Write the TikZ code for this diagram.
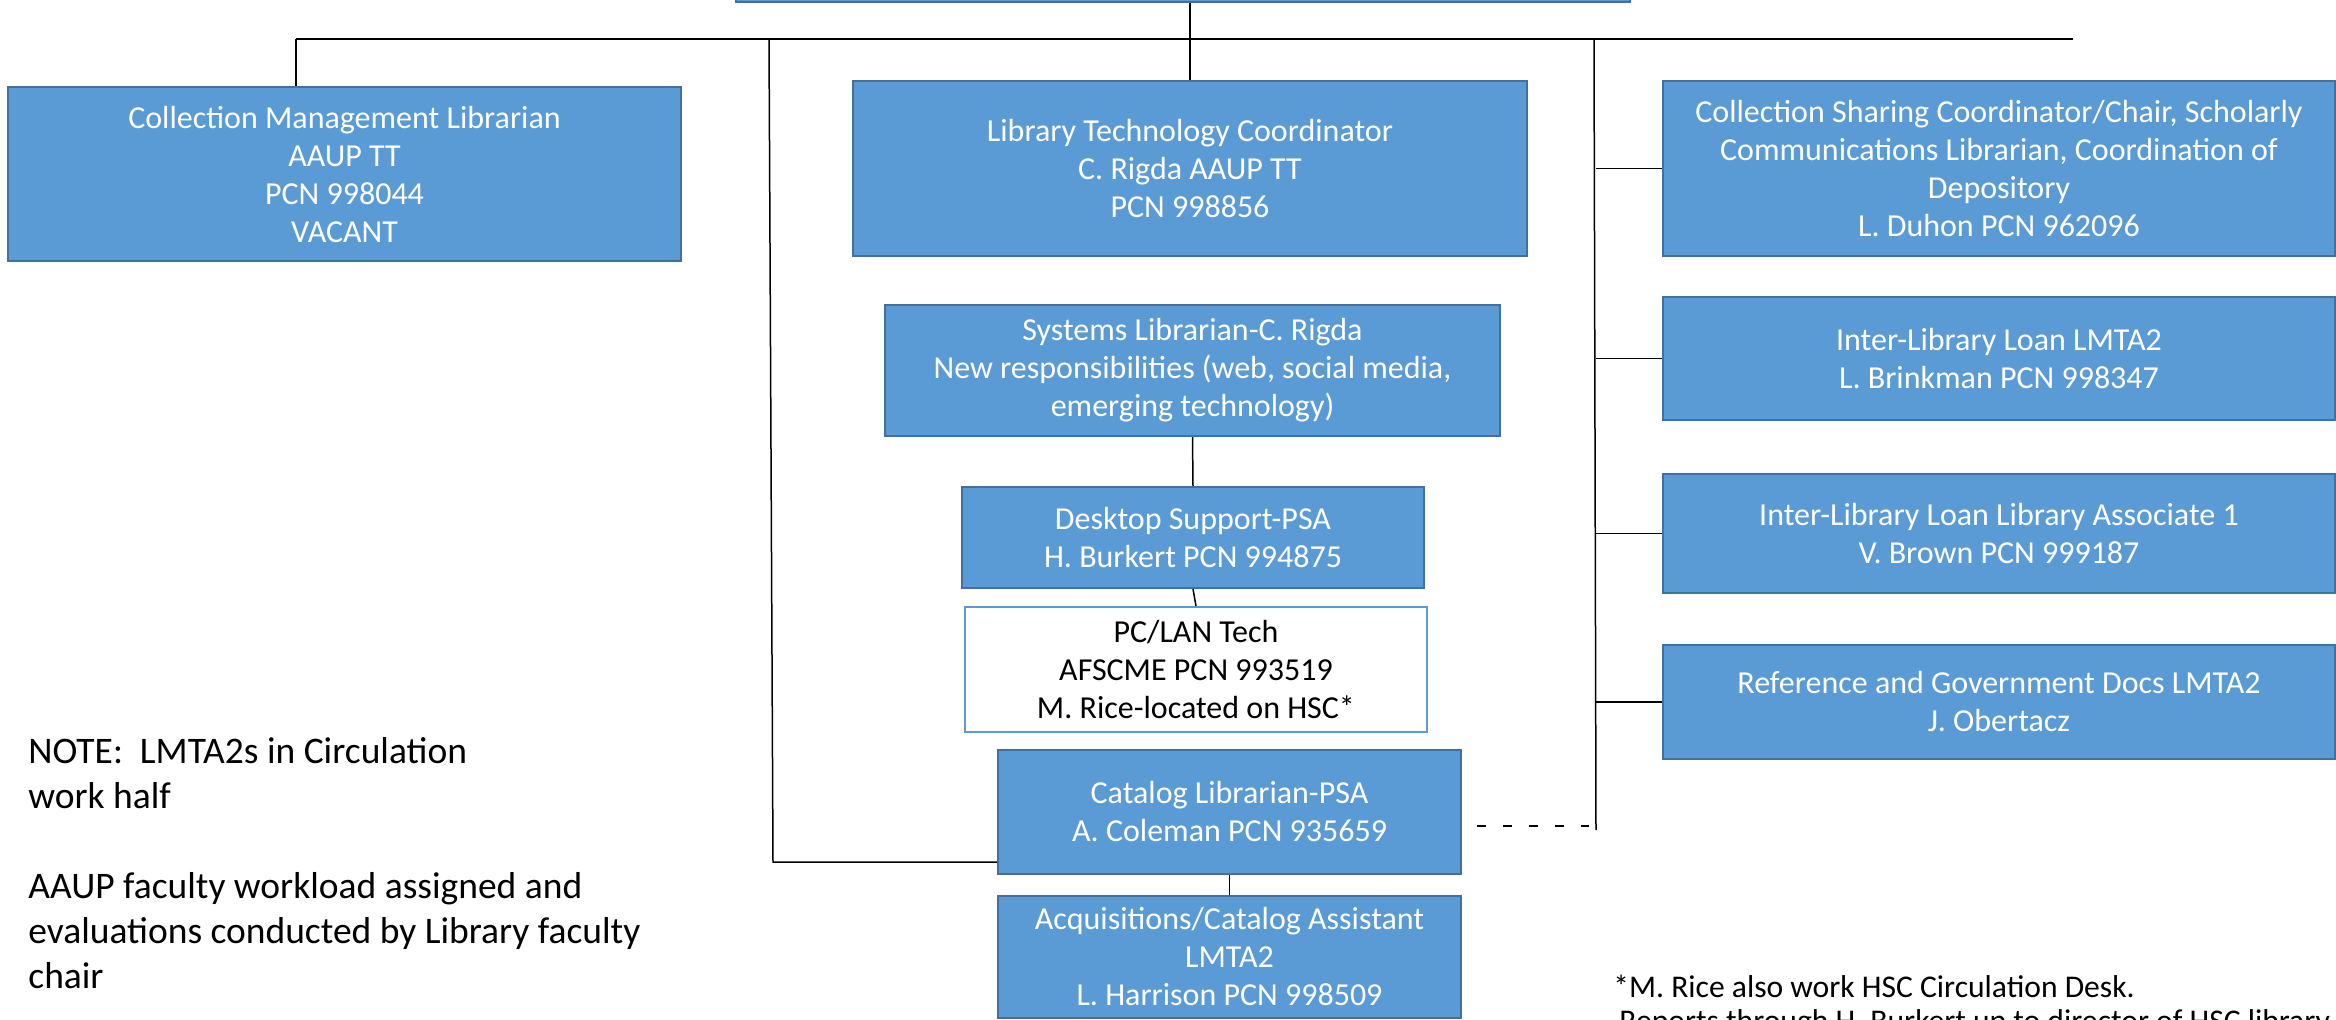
\documentclass[tikz,border=0pt]{standalone}
\usepackage{fontspec}
\setmainfont{Carlito}
\definecolor{boxblue}{HTML}{5B9BD5}
\definecolor{boxedge}{HTML}{41719C}
\tikzset{
  orgbox/.style={draw=boxedge, fill=boxblue, line width=1pt, text=white, align=center,
    inner sep=0pt, font=\fontsize{16}{19}\selectfont},
  whitebox/.style={draw=boxblue, fill=white, line width=1pt, text=black, align=center,
    inner sep=0pt, font=\fontsize{16}{19}\selectfont},
  conn/.style={draw=black, line width=0.75pt},
  notetext/.style={anchor=base west, inner sep=0pt, font=\fontsize{18.75}{22.5}\selectfont},
  foottext/.style={anchor=base west, inner sep=0pt, font=\fontsize{15.8}{18}\selectfont},
}
\begin{document}
\begin{tikzpicture}[x=0.5pt,y=-0.5pt]
\useasboundingbox (0,0) rectangle (2336,1019);
\clip (0,0) rectangle (2336,1019);

% boxes
\node[orgbox, minimum width=447pt, minimum height=16pt] (top) at (1183,-14) {};
\node[orgbox, minimum width=336.5pt, minimum height=87pt] (cm) at (344.5,174)
  {Collection Management Librarian\\AAUP TT\\PCN 998044\\VACANT};
\node[orgbox, minimum width=337pt, minimum height=87.5pt] (ltc) at (1190,168.5)
  {Library Technology Coordinator\\C. Rigda AAUP TT\\PCN 998856};
\node[orgbox, minimum width=336pt, minimum height=87.5pt] (cs) at (1999,168.5)
  {Collection Sharing Coordinator/Chair, Scholarly\\Communications Librarian, Coordination of\\Depository\\L. Duhon PCN 962096};
\node[orgbox, minimum width=336pt, minimum height=61.5pt] (ill) at (1999,358.5)
  {Inter-Library Loan LMTA2\\L. Brinkman PCN 998347};
\node[orgbox, minimum width=336pt, minimum height=59.5pt] (ila) at (1999,533.5)
  {Inter-Library Loan Library Associate 1\\V. Brown PCN 999187};
\node[orgbox, minimum width=336pt, minimum height=57pt] (ref) at (1999,702)
  {Reference and Government Docs LMTA2\\J. Obertacz};
\node[orgbox, minimum width=307.5pt, minimum height=65.5pt] (sys) at (1192.5,370.5)
  {Systems Librarian-C. Rigda\\New responsibilities (web, social media,\\emerging technology)};
\node[orgbox, minimum width=231pt, minimum height=50.5pt] (desk) at (1193,537.5)
  {Desktop Support-PSA\\H. Burkert PCN 994875};
\node[whitebox, minimum width=231pt, minimum height=62.5pt] (pclan) at (1196,669.5)
  {PC/LAN Tech\\AFSCME PCN 993519\\M. Rice-located on HSC*};
\node[orgbox, minimum width=231.5pt, minimum height=62pt] (cat) at (1229.5,812)
  {Catalog Librarian-PSA\\A. Coleman PCN 935659};
\node[orgbox, minimum width=231.5pt, minimum height=61pt] (acq) at (1229.5,957)
  {Acquisitions/Catalog Assistant\\LMTA2\\L. Harrison PCN 998509};

% connectors
\coordinate (hL) at (296,39);
\coordinate (hR) at (2073,39);
\coordinate (lv) at (769,39);
\coordinate (lvb) at (773,862);
\coordinate (rv) at (1594,39);
\coordinate (rvb) at (1596,830);
\coordinate (dashend) at (1589,826);
\path (cat.east) ++(15,0) coordinate (dashstart);

\draw[conn, line width=1pt] (hL) -- (hR);
\draw[conn] (hL) -- (cm.north -| hL);
\draw[conn] (top.south -| ltc.north) -- (ltc.north);
\draw[conn] (lv) -- (lvb) -- (cat.west |- lvb);
\draw[conn] (rv) -- (rvb);
\foreach \b in {cs,ill,ila,ref} \draw[conn] (\b.west -| rvb) -- (\b.west);
\draw[conn, dash pattern=on 4.5pt off 8.5pt] (dashstart |- dashend) -- (dashend);
\draw[conn] (sys.south) -- (desk.north);
\draw[conn] (desk.south) -- (pclan.north);
\draw[conn] (cat.south) -- (acq.north);

% notes
\node[notetext] (note1) at (28,763) {NOTE:\ \ LMTA2s in Circulation};
\node[notetext] (note2) at (28,808) {work half};
\node[notetext] (note3) at (28,898) {AAUP faculty workload assigned and};
\node[notetext] (note4) at (28,943) {evaluations conducted by Library faculty};
\node[notetext] (note5) at (28,988) {chair};
\node[foottext] (foot1) at (1613,997) {*M. Rice also work HSC Circulation Desk.};
\node[foottext] (foot2) at (1619,1031) {Reports through H. Burkert up to director of HSC library};
\end{tikzpicture}
\end{document}
